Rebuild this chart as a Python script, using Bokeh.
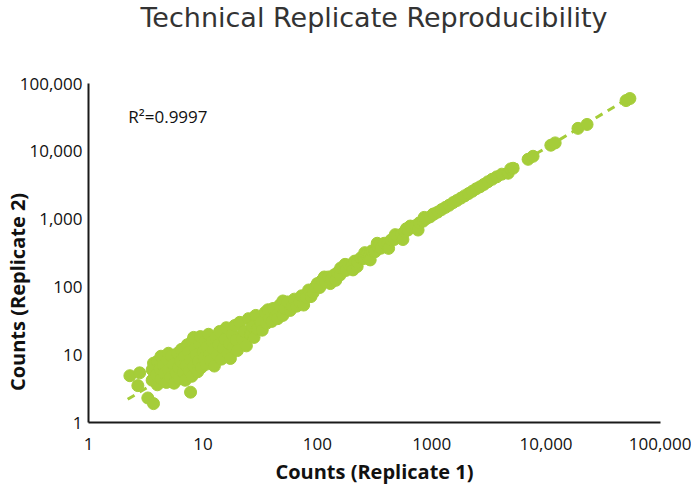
from bokeh.plotting import figure
from bokeh.models import Range1d, FixedTicker, Label, ColumnDataSource, Div
from bokeh.layouts import column
from bokeh.embed import file_html
from bokeh.resources import INLINE

# ---- data (counts) ----
rep1_counts = [
    # sparse low-end outliers
    2.3, 2.8, 2.7, 3.3, 3.7, 7.8,
    # dense low-count cluster
    3.6, 3.6, 3.7, 3.9, 4.0, 4.0, 4.2, 4.3, 4.3, 4.5, 4.6, 4.8, 4.9, 5.0, 5.0, 5.2, 5.3, 5.5, 5.6, 5.8,
    6.0, 6.1, 6.2, 6.4, 6.5, 6.7, 6.9, 7.0, 7.1, 7.3, 7.5, 7.6, 7.8, 8.0, 8.1, 8.3, 8.3, 8.5, 8.7,
    9.0, 9.1, 9.3, 9.5, 9.7, 10.0, 10.2, 10.4, 10.6, 10.9, 11.2, 11.4, 11.7, 12.0, 12.3, 12.6,
    13.0, 13.3, 13.7, 14.0, 14.5, 15.0, 15.5, 16.0, 16.5, 17.0, 17.4, 18.0, 18.5, 19.0, 19.5, 20.0,
    21, 22, 23, 24, 25, 26, 27, 28, 29, 30, 32, 33, 35, 36, 37, 38, 40, 41, 43, 45, 45, 47, 50, 50, 52,
    55, 58, 60, 63, 66, 70, 73, 76, 80, 84, 88, 92, 96,
    # main band
    100, 105, 110, 115, 118, 125, 130, 132, 140, 145, 150, 158, 160, 168, 175, 178, 190, 200,
    205, 212, 223, 225, 240, 255, 260, 270, 285, 290, 300, 320, 334, 340, 350, 360, 385, 410,
    420, 440, 470, 480, 500, 540, 560, 580, 600, 620, 650, 670, 720, 760, 780, 840, 860, 900,
    970, 1030, 1050, 1130, 1220, 1320, 1420, 1540, 1660, 1800, 1940,
    2100, 2270, 2450, 2650, 2860, 3100, 3380, 3700, 4100, 4660, 4900, 5150,
    # high-count sparse points
    6960, 7690, 11000, 12000, 19000, 22800, 50000, 54000,
]
rep2_counts = [
    4.9, 5.4, 3.5, 2.3, 1.9, 2.8,
    4.2, 6.0, 7.5, 5.0, 3.6, 8.0, 6.2, 4.4, 9.5, 7.0, 5.3, 3.9, 8.5, 6.0, 10.5, 4.6, 9.5, 7.2, 3.8, 5.4,
    10.5, 6.5, 4.4, 8.0, 12.0, 5.5, 9.5, 4.2, 7.0, 14.0, 11.0, 5.8, 8.5, 4.8, 16.0, 6.8, 18.0, 12.5, 10.0,
    5.6, 8.0, 14.5, 18.5, 6.5, 11.0, 9.0, 16.0, 7.2, 13.0, 20.0, 10.0, 8.2, 15.5, 12.0, 6.8,
    18.0, 10.0, 14.0, 22.0, 8.6, 12.5, 17.0, 25.0, 10.5, 14.5, 8.8, 20.0, 13.0, 27.0, 16.5, 11.5,
    30, 17, 22, 13.5, 34, 20, 26, 18, 38, 24, 30, 23, 42, 29, 46, 34, 31, 48, 36, 40, 34, 54, 38, 62, 48,
    60, 45, 52, 66, 52, 60, 74, 54, 70, 90, 72, 82, 100,
    112, 98, 125, 140, 118, 140, 112, 128, 150, 125, 162, 150, 190, 185, 215, 175, 210, 205,
    178, 240, 200, 230, 268, 262, 320, 300, 295, 250, 340, 330, 440, 385, 420, 372, 440, 430,
    370, 490, 500, 590, 560, 590, 500, 650, 720, 690, 790, 760, 800, 690, 880, 930, 1060, 1020,
    1080, 1185, 1190, 1270, 1380, 1490, 1600, 1750, 1880, 2040, 2200,
    2380, 2580, 2800, 3000, 3250, 3550, 3870, 4200, 4600, 4750, 5500, 5620,
    7620, 8440, 12300, 13300, 21800, 24900, 56000, 60000,
]
trend_x = [2.2, 52000]
trend_y = [2.2, 60000]
x_ticks = [1, 10, 100, 1000, 10000, 100000]
x_tick_labels = ["1", "10", "100", "1000", "10,000", "100,000"]
y_ticks = [1, 10, 100, 1000, 10000, 100000]
y_tick_labels = ["1", "10", "100", "1,000", "10,000", "100,000"]

GREEN = "#A5CD39"
FONT = "Open Sans"

title = Div(
    text='<div style="font-family:\'DejaVu Sans\'; font-size:27px; color:#333333; '
         'width:572px; text-align:center; line-height:36px; height:36px; white-space:nowrap;">'
         'Technical Replicate Reproducibility</div>',
    width=572, height=40, margin=(0, 0, 0, 88))

p = figure(width=691, height=449, x_axis_type="log", y_axis_type="log",
           x_range=Range1d(1, 100000), y_range=Range1d(1, 100000),
           output_backend="svg", toolbar_location=None,
           min_border_left=88, min_border_right=31, min_border_top=43, min_border_bottom=67)

p.grid.visible = False
p.outline_line_color = None
p.background_fill_color = "white"
p.border_fill_color = "white"
p.title.text = ""
p.title.standoff = 0

for ax, ticks, labels in ((p.xaxis[0], x_ticks, x_tick_labels), (p.yaxis[0], y_ticks, y_tick_labels)):
    ax.ticker = FixedTicker(ticks=ticks, minor_ticks=[])
    ax.major_label_overrides = {t: l for t, l in zip(ticks, labels)}
    ax.major_tick_line_color = None
    ax.minor_tick_line_color = None
    ax.major_tick_out = 0
    ax.major_tick_in = 0
    ax.minor_tick_out = 0
    ax.minor_tick_in = 0
    ax.axis_line_width = 2
    ax.axis_line_color = "#1a1a1a"
    ax.major_label_text_font = FONT
    ax.major_label_text_font_size = "17px"
    ax.major_label_text_color = "#111111"
    ax.axis_label_text_font = FONT
    ax.axis_label_text_font_size = "20px"
    ax.axis_label_text_font_style = "bold"
    ax.axis_label_text_color = "#111111"

p.xaxis[0].major_label_standoff = 15
p.yaxis[0].major_label_standoff = 6
p.xaxis[0].axis_label = "Counts (Replicate 1)"
p.xaxis[0].axis_label_standoff = 5
# trailing no-break spaces move the label below the axis midpoint, as in the reference
p.yaxis[0].axis_label = "Counts (Replicate 2)" + "\u00a0" * 15
p.yaxis[0].axis_label_standoff = -14

# trend line then points
p.line(trend_x, trend_y, line_color=GREEN, line_width=3, line_dash="8 6")
src = ColumnDataSource(dict(x=rep1_counts, y=rep2_counts))
p.scatter("x", "y", source=src, size=12, fill_color=GREEN, line_color=GREEN, line_width=1)

p.add_layout(Label(x=2.23, y=33000, text="R\u00b2=0.9997", text_font=FONT,
                   text_font_size="17px", text_color="#111111", text_baseline="alphabetic"))

layout = column(title, p, spacing=0)
open("out.html", "w").write(file_html(layout, INLINE))
